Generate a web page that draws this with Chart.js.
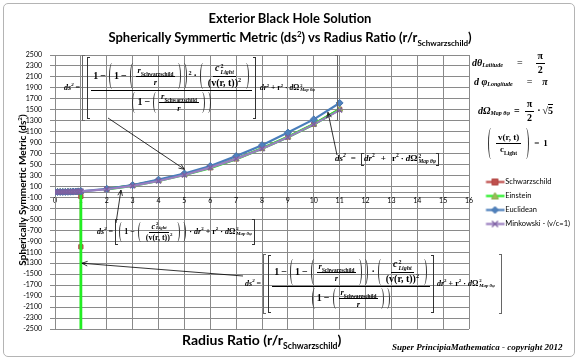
<!DOCTYPE html>
<html><head><meta charset="utf-8">
<script src="https://cdn.jsdelivr.net/npm/chart.js@4/dist/chart.umd.min.js"></script>
<style>
html,body{margin:0;padding:0;background:#fff;width:580px;height:361px;overflow:hidden}
#wrap{position:relative;width:580px;height:361px}
#frame{position:absolute;left:3px;top:3px;width:570px;height:352px;border:1px solid #b4b4b4;border-radius:5px;pointer-events:none}
canvas{position:absolute;left:0;top:0}
.txt{position:absolute;white-space:nowrap;color:#000}
.title{left:0;width:580px;text-align:center;font-family:Lato,"Liberation Sans",sans-serif;font-weight:bold}
sup,sub{font-size:.62em;line-height:0}
.eq{position:absolute;display:flex;align-items:center;font-family:"Liberation Serif","DejaVu Serif",serif;font-weight:bold;line-height:1.05;white-space:nowrap;color:#000;pointer-events:none}
.g{display:inline-flex;align-items:center}
.f{display:inline-flex;flex-direction:column;align-items:center;margin:0 1px}
.f>.n{border-bottom:1px solid #000;padding:0 2px 1px}
.f>.d{padding:1px 2px 0}
.lp,.rp{align-self:stretch;width:3px;border:0 solid #333;margin:0 1px}
.lp{border-left-width:1px;border-radius:3px 0 0 3px/50% 0 0 50%}
.rp{border-right-width:1px;border-radius:0 3px 3px 0/0 50% 50% 0}
.lb,.rb{width:2px;border:1px solid #333;align-self:center}
.lb{border-right:0}.rb{border-left:0}
.dk{border-color:#666}
.o{margin:0 2px}
.i{font-style:italic}
.s{display:inline-flex;flex-direction:column;font-size:.6em;line-height:1;vertical-align:middle;margin-left:1px}
.sm{font-size:.85em}
.tail{display:inline-flex;align-items:center}
</style>
</head><body>
<div id="wrap">
<canvas id="c" width="580" height="361"></canvas>
<div id="frame"></div>

<div class="txt title" style="top:10px;font-size:13px">Exterior Black Hole Solution</div>
<div class="txt title" style="top:29px;font-size:13px">Spherically Symmertic Metric (ds<sup>2</sup>) vs Radius Ratio (r/r<sub>Schwarzschild</sub>)</div>
<div class="txt" style="left:22px;top:190px;transform:translate(-50%,-50%) rotate(-90deg);font:bold 10px Lato,sans-serif">Spherically Symmertic Metric (ds<sup>2</sup>)</div>
<div class="txt" style="left:182px;top:331px;font:bold 14px Lato,sans-serif">Radius Ratio (r/r<sub>Schwarzschild</sub>)</div>
<div class="txt" style="left:392px;top:342px;font:bold italic 9px 'Liberation Serif',serif">Super PrincipiaMathematica - copyright 2012</div>

<!-- Equation 1 (top left) -->
<div class="eq" style="left:64px;top:55px;height:66px;font-size:10px">
 <span class="i" style="font-size:8px">ds<sup>2</sup></span><span class="o" style="font-size:8px">=</span>
 <span class="lb dk" style="height:64px"></span><span class="lb" style="height:60px;margin-left:2px"></span>
 <span class="f">
  <span class="n g">1<span class="o">−</span>
   <span class="lp"></span>1<span class="o">−</span><span class="lp"></span><span class="f sm"><span class="n"><span class="i">r</span><sub>Schwarzschild</sub></span><span class="d i">r</span></span><span class="rp"></span><span class="rp"></span><span><sup>2</sup></span><span class="o">·</span>
   <span class="lp"></span><span class="f"><span class="n"><span class="i">c</span><span class="s"><span>2</span><span class="i">Light</span></span></span><span class="d">(v(r, t))<sup>2</sup></span></span><span class="rp"></span>
  </span>
  <span class="d g"><span class="lp"></span>1<span class="o">−</span><span class="lp"></span><span class="f sm"><span class="n"><span class="i">r</span><sub>Schwarzschild</sub></span><span class="d i">r</span></span><span class="rp"></span><span class="rp"></span></span>
 </span>
 <span class="rb" style="height:60px"></span>
 <span class="tail" style="font-size:7.5px;margin-left:4px"><span><span class="i">dr</span><sup>2</sup></span><span class="o">+</span><span>r<sup>2</sup></span><span class="o">·</span><span class="i">d</span><span>Ω</span><span class="s"><span>2</span><span class="i">Map θφ</span></span></span>
 <span class="rb dk" style="height:64px;margin-left:20px"></span>
</div>

<!-- Equation 2 (middle left) -->
<div class="eq" style="left:97px;top:219px;height:26px;font-size:8px">
 <span class="i">ds<sup>2</sup></span><span class="o">=</span>
 <span class="lb" style="height:24px"></span>
 <span class="g"><span class="lp"></span>1<span class="o">−</span><span class="lp"></span><span class="f"><span class="n"><span class="i">c</span><span class="s"><span>2</span><span class="i">Light</span></span></span><span class="d">(v(r, t))<sup>2</sup></span></span><span class="rp"></span><span class="rp"></span></span>
 <span class="o">·</span><span><span class="i">dr</span><sup>2</sup></span><span class="o">+</span><span>r<sup>2</sup></span><span class="o">·</span><span class="i">d</span><span>Ω</span><span class="s"><span>2</span><span class="i">Map θφ</span></span>
 <span class="rb" style="height:24px"></span>
</div>

<!-- Equation 3 (bottom) -->
<div class="eq" style="left:245px;top:254px;height:60px;font-size:10px">
 <span class="i" style="font-size:8px">ds<sup>2</sup></span><span class="o" style="font-size:8px">=</span>
 <span class="lb dk" style="height:58px"></span><span class="lb" style="height:56px;margin-left:2px"></span>
 <span class="f">
  <span class="n g">1<span class="o">−</span>
   <span class="lp"></span>1<span class="o">−</span><span class="lp"></span><span class="f sm"><span class="n"><span class="i">r</span><sub>Schwarzschild</sub></span><span class="d i">r</span></span><span class="rp"></span><span class="rp"></span><span class="o">·</span>
   <span class="lp"></span><span class="f"><span class="n"><span class="i">c</span><span class="s"><span>2</span><span class="i">Light</span></span></span><span class="d">(v(r, t))<sup>2</sup></span></span><span class="rp"></span>
  </span>
  <span class="d g"><span class="lp"></span>1<span class="o">−</span><span class="lp"></span><span class="f sm"><span class="n"><span class="i">r</span><sub>Schwarzschild</sub></span><span class="d i">r</span></span><span class="rp"></span><span class="rp"></span></span>
 </span>
 <span class="rb" style="height:56px"></span>
 <span class="tail" style="font-size:8px;margin-left:3px"><span><span class="i">dr</span><sup>2</sup></span><span class="o">+</span><span>r<sup>2</sup></span><span class="o">·</span><span class="i">d</span><span>Ω</span><span class="s"><span>2</span><span class="i">Map θφ</span></span></span>
 <span class="rb dk" style="height:58px;margin-left:4px"></span>
</div>

<!-- Equation 4 -->
<div class="eq" style="left:335px;top:152px;height:14px;font-size:9px">
 <span class="i">ds<sup>2</sup></span><span class="o" style="margin:0 5px">=</span>
 <span class="lb" style="height:11px"></span>
 <span><span class="i">dr</span><sup>2</sup></span><span class="o" style="margin:0 6px">+</span><span>r<sup>2</sup></span><span class="o">·</span><span class="i">d</span><span>Ω</span><span class="s"><span>2</span><span class="i">Map θφ</span></span>
 <span class="rb" style="height:11px"></span>
</div>

<!-- Right side equations -->
<div class="eq" style="left:472px;top:52px;height:22px;font-size:10px">
 <span class="i">dθ</span><span class="i" style="font-size:6px;margin-top:5px">Latitude</span><span style="margin:0 12px 0 14px;font-weight:normal">=</span>
 <span class="f"><span class="n" style="border:0">π</span><span class="d" style="border-top:1px solid #000">2</span></span>
</div>
<div class="eq" style="left:474px;top:75px;height:14px;font-size:10px">
 <span class="i">d φ</span><span class="i" style="font-size:6px;margin-top:5px">Longitude</span><span style="margin:0 10px 0 14px;font-weight:normal">=</span><span class="i">π</span>
</div>
<div class="eq" style="left:478px;top:99px;height:24px;font-size:10px">
 <span class="i">dΩ</span><span class="i" style="font-size:6px;margin-top:5px">Map θφ</span><span style="margin:0 4px">=</span>
 <span class="f"><span class="n" style="border:0">π</span><span class="d" style="border-top:1px solid #000">2</span></span><span class="o">·</span><span>√<span style="border-top:1px solid #000">5</span></span>
</div>
<div class="eq" style="left:487px;top:128px;height:31px;font-size:9px">
 <span class="lp" style="width:5px"></span><span class="f"><span class="n">v(r, t)</span><span class="d">c<sub>Light</sub></span></span><span class="rp" style="width:5px"></span><span style="margin:0 4px">=</span><span>1</span>
</div>
</div>

<script>
// ---- data ----
const xValues = [0,0.1,0.2,0.3,0.4,0.5,0.6,0.7,0.8,0.9,1,1,2,3,4,5,6,7,8,9,10,11];
const schwarzschild = [-1,-1,-1,0,0,1,2,3,3,0,-80,-1000,55,120,212,320,443,605,795,1005,1237,1510];
const einstein = [0,0,0,1,2,3,4,6,8,10,12,-100000,52,117,208,318,441,603,793,1003,1235,1508];
const euclidean = [0,0,1,1,2,3,5,7,9,11,13,13,58,125,225,338,475,655,855,1085,1325,1625];
const minkowski = [0,0,0,1,2,3,4,6,8,10,12,12,50,112,200,310,445,605,790,1000,1234,1494];
const seriesNames = ['Schwarzschild','Einstein','Euclidean','Minkowski - (v/c=1)'];
const yTicksMin = -2500, yTicksMax = 2500, yStep = 200;
const xTicksMin = 0, xTicksMax = 16, xStep = 1;

const pts = arr => xValues.map((x,i)=>({x:x,y:arr[i]}));
// segments leaving the singular point at r = 1 are not drawn
const singularSeg = ctx => (ctx.p0.parsed.x === 1 && ctx.p1.parsed.x > 1) ? 'rgba(0,0,0,0)' : undefined;

function sample(lineColor, fill, stroke, style){
  const c = document.createElement('canvas'); c.width = 34; c.height = 9;
  const g = c.getContext('2d');
  g.strokeStyle = lineColor; g.lineWidth = 2.2;
  g.beginPath(); g.moveTo(14.5,4.5); g.lineTo(33,4.5); g.stroke();
  const cx = 23.5, cy = 4.5, r = 3;
  g.fillStyle = fill; g.strokeStyle = stroke; g.lineWidth = 1;
  g.beginPath();
  if (style==='rect'){ g.rect(cx-r,cy-r,2*r,2*r); g.fill(); g.stroke(); }
  else if (style==='triangle'){ g.moveTo(cx,cy-r-0.5); g.lineTo(cx+r+0.5,cy+r); g.lineTo(cx-r-0.5,cy+r); g.closePath(); g.fill(); g.stroke(); }
  else if (style==='rectRot'){ g.moveTo(cx,cy-r-0.5); g.lineTo(cx+r+0.5,cy); g.lineTo(cx,cy+r+0.5); g.lineTo(cx-r-0.5,cy); g.closePath(); g.fill(); g.stroke(); }
  else { g.lineWidth=1.3; g.moveTo(cx-r,cy-r); g.lineTo(cx+r,cy+r); g.moveTo(cx+r,cy-r); g.lineTo(cx-r,cy+r); g.stroke(); }
  return c;
}
const legendSamples = [
  sample('#BE4B48','#C0504D','#B04643','rect'),
  sample('#22EE22','#9BBB59','#8CAA4E','triangle'),
  sample('#4A7EBB','#4F81BD','#4573AC','rectRot'),
  sample('#9A7FC0','#7D60A0','#7D60A0','crossRot')
];

const arrowPlugin = {
  id:'arrows',
  afterDraw(chart){
    const xs = chart.scales.x, ys = chart.scales.y, ctx = chart.ctx;
    const arrows = [
      [108,118, 5, 415],
      [116,223, 2.55, 35],
      [243,276, 1.04, -1300],
      [337,155, 10.55, 1455]
    ];
    ctx.save();
    ctx.strokeStyle = '#000'; ctx.lineWidth = 0.8;
    arrows.forEach(a=>{
      const x0=a[0], y0=a[1], x1=xs.getPixelForValue(a[2]), y1=ys.getPixelForValue(a[3]);
      ctx.beginPath(); ctx.moveTo(x0,y0); ctx.lineTo(x1,y1); ctx.stroke();
      const ang = Math.atan2(y1-y0,x1-x0), L=6, w=0.4;
      ctx.beginPath();
      ctx.moveTo(x1-L*Math.cos(ang-w), y1-L*Math.sin(ang-w));
      ctx.lineTo(x1,y1);
      ctx.lineTo(x1-L*Math.cos(ang+w), y1-L*Math.sin(ang+w));
      ctx.stroke();
    });
    ctx.restore();
  }
};

const tickFont = {family:'Lato, "Liberation Sans", sans-serif', size:7};
new Chart(document.getElementById('c'), {
  type:'line',
  data:{
    datasets:[
      {label:seriesNames[0], data:pts(schwarzschild), order:4, borderColor:'#BE4B48', borderWidth:2.2,
       pointStyle:'rect', pointRadius:3, pointBackgroundColor:'#C0504D', pointBorderColor:'#B04643', pointBorderWidth:1,
       segment:{borderColor:singularSeg}},
      {label:seriesNames[1], data:pts(einstein), order:3, borderColor:'#22EE22', borderWidth:2.8,
       pointStyle:'triangle', pointRadius:3.5, pointBackgroundColor:'#9BBB59', pointBorderColor:'#8CAA4E', pointBorderWidth:1,
       segment:{borderColor:singularSeg}},
      {label:seriesNames[2], data:pts(euclidean), order:2, borderColor:'#4A7EBB', borderWidth:2.2,
       pointStyle:'rectRot', pointRadius:3.5, pointBackgroundColor:'#4F81BD', pointBorderColor:'#4573AC', pointBorderWidth:1},
      {label:seriesNames[3], data:pts(minkowski), order:1, borderColor:'#9A7FC0', borderWidth:2.2,
       pointStyle:'crossRot', pointRadius:3.5, pointBorderColor:'#7D60A0', pointBorderWidth:1.4}
    ]
  },
  options:{
    responsive:false, animation:false,
    layout:{padding:{left:15, top:55, bottom:32, right:0}},
    plugins:{
      tooltip:{enabled:false},
      title:{display:false},
      legend:{
        position:'right', align:'center', maxWidth:111,
        title:{display:true, text:'', font:{size:10}, padding:{top:10,bottom:0}},
        labels:{
          usePointStyle:true, pointStyleWidth:26, padding:6.5, color:'#000',
          font:{family:'Lato, "Liberation Sans", sans-serif', size:7.5},
          generateLabels(chart){
            const items = Chart.defaults.plugins.legend.labels.generateLabels(chart);
            items.sort((a,b)=>a.datasetIndex-b.datasetIndex);
            items.forEach(it=>{ it.pointStyle = legendSamples[it.datasetIndex]; });
            return items;
          }
        }
      }
    },
    scales:{
      x:{type:'linear', position:{y:0}, min:xTicksMin, max:xTicksMax,
         ticks:{stepSize:xStep, color:'#000', font:tickFont, padding:1, maxRotation:0, autoSkip:false},
         grid:{color:'#8a8a8a', lineWidth:1, tickLength:4, drawTicks:true},
         border:{display:true, color:'#8a8a8a', width:1}},
      y:{type:'linear', min:yTicksMin, max:yTicksMax,
         ticks:{stepSize:yStep, color:'#000', font:tickFont, padding:8, autoSkip:false, callback:v=>String(v)},
         grid:{color:'#8a8a8a', lineWidth:1, tickLength:5},
         border:{display:true, color:'#8a8a8a', width:1},
         afterFit(s){ s.width = 40; }}
    }
  },
  plugins:[arrowPlugin]
});
</script>
</body></html>
